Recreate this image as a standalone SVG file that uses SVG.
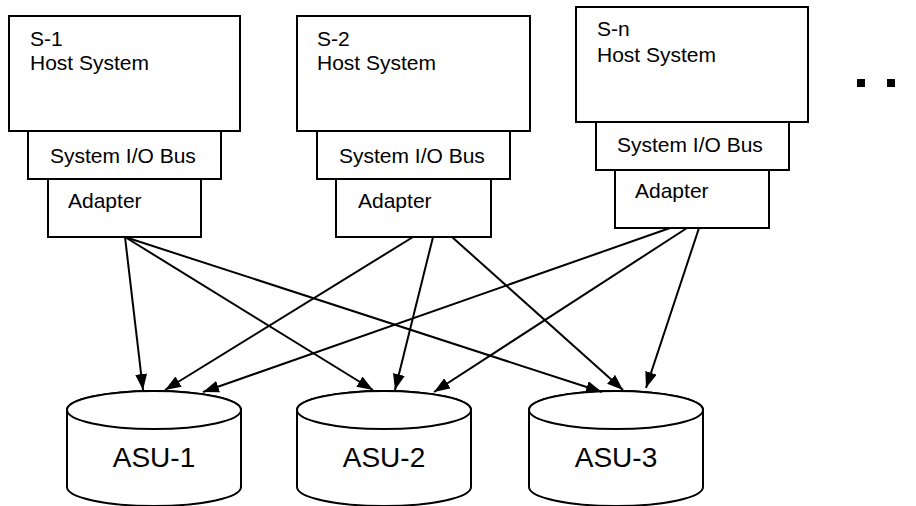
<svg xmlns="http://www.w3.org/2000/svg" width="916" height="506" viewBox="0 0 916 506">
<defs>
<style>
.box{fill:#fff;stroke:#000;stroke-width:2}
.t{font-family:"Liberation Sans",Arial,sans-serif;font-size:21px;fill:#000}
.big{font-family:"Liberation Sans",Arial,sans-serif;font-size:28px;fill:#000;text-anchor:middle}
.c{fill:none;stroke:#000;stroke-width:2;marker-end:url(#ah)}
.cyl{fill:#fff;stroke:#000;stroke-width:2}
</style>
<marker id="ah" viewBox="0 0 16 12" refX="16" refY="6" markerWidth="16" markerHeight="12" markerUnits="userSpaceOnUse" orient="auto">
<path d="M0,0 L16,6 L0,12 Z" fill="#000"/>
</marker>
</defs>
<rect width="916" height="506" fill="#fff"/>
<g id="host1">
<rect class="box" x="9" y="16" width="231" height="115"/>
<text class="t" x="30" y="46">S-1</text>
<text class="t" x="30" y="70">Host System</text>
</g>
<g id="bus1">
<rect class="box" x="28" y="131" width="193" height="48"/>
<text class="t" x="50" y="163">System I/O Bus</text>
</g>
<g id="adapter1">
<rect class="box" x="48" y="179" width="153" height="58"/>
<text class="t" x="68" y="208">Adapter</text>
</g>
<g id="host2">
<rect class="box" x="297" y="16" width="233" height="115"/>
<text class="t" x="317" y="46">S-2</text>
<text class="t" x="317" y="70">Host System</text>
</g>
<g id="bus2">
<rect class="box" x="317" y="131" width="193" height="48"/>
<text class="t" x="339" y="163">System I/O Bus</text>
</g>
<g id="adapter2">
<rect class="box" x="336" y="179" width="155" height="58"/>
<text class="t" x="358" y="208">Adapter</text>
</g>
<g id="hostn">
<rect class="box" x="576" y="7" width="232" height="115"/>
<text class="t" x="597" y="36">S-n</text>
<text class="t" x="597" y="62">Host System</text>
</g>
<g id="busn">
<rect class="box" x="596" y="122" width="193" height="48"/>
<text class="t" x="617" y="152">System I/O Bus</text>
</g>
<g id="adaptern">
<rect class="box" x="615" y="170" width="154" height="58"/>
<text class="t" x="635" y="198">Adapter</text>
</g>
<g id="ellipsis">
<rect x="857" y="79" width="8" height="8" fill="#000"/>
<rect x="887" y="79" width="8" height="8" fill="#000"/>
</g>
<g id="asu1">
<path class="cyl" d="M67,410 L67,487 A87,19 0 0 0 241,487 L241,410 A87,19 0 0 0 67,410 Z"/>
<ellipse class="cyl" cx="154" cy="410" rx="87" ry="19"/>
<text class="big" x="154" y="467">ASU-1</text>
</g>
<g id="asu2">
<path class="cyl" d="M297,410 L297,487 A87,19 0 0 0 471,487 L471,410 A87,19 0 0 0 297,410 Z"/>
<ellipse class="cyl" cx="384" cy="410" rx="87" ry="19"/>
<text class="big" x="384" y="467">ASU-2</text>
</g>
<g id="asu3">
<path class="cyl" d="M529,410 L529,487 A87,19 0 0 0 703,487 L703,410 A87,19 0 0 0 529,410 Z"/>
<ellipse class="cyl" cx="616" cy="410" rx="87" ry="19"/>
<text class="big" x="616" y="467">ASU-3</text>
</g>
<g id="connectors">
<line class="c" x1="125" y1="237" x2="143" y2="390"/>
<line class="c" x1="125" y1="237" x2="373" y2="390"/>
<line class="c" x1="125" y1="237" x2="602" y2="392"/>
<line class="c" x1="413" y1="237" x2="165" y2="390"/>
<line class="c" x1="433" y1="237" x2="395" y2="390"/>
<line class="c" x1="452" y1="237" x2="623" y2="390"/>
<line class="c" x1="670" y1="228" x2="203" y2="392"/>
<line class="c" x1="687" y1="228" x2="434" y2="392"/>
<line class="c" x1="699" y1="228" x2="646" y2="388"/>
</g>
</svg>
